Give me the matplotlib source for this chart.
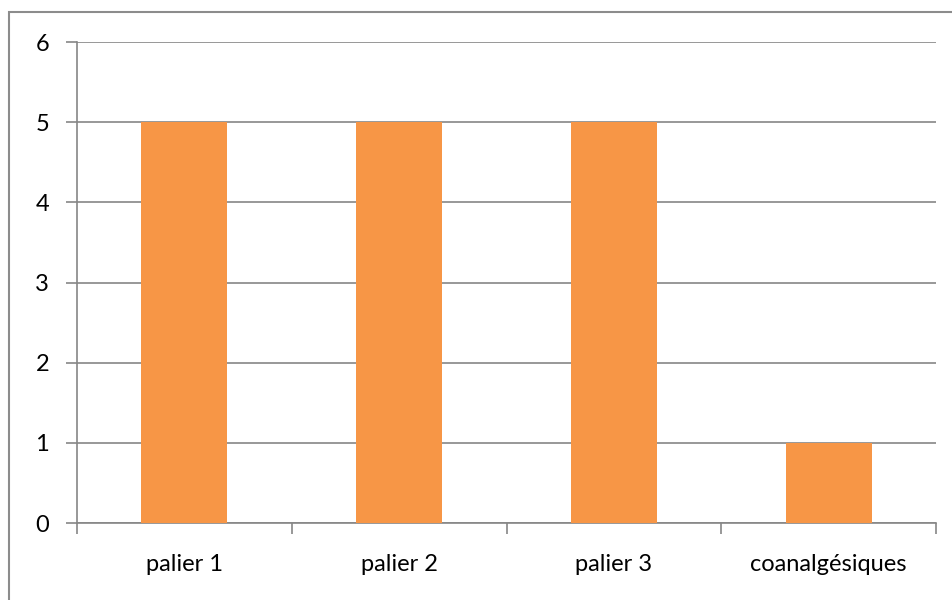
import matplotlib
matplotlib.use("Agg")
import matplotlib.pyplot as plt
from matplotlib.patches import Rectangle

categories = ["palier 1", "palier 2", "palier 3", "coanalgésiques"]
values = [5, 5, 5, 1]
yticks = [0, 1, 2, 3, 4, 5, 6]

W, H = 953, 600
fig = plt.figure(figsize=(W / 100, H / 100), dpi=100)
plt.rcParams["font.family"] = ["Lato", "DejaVu Sans"]

# chart frame (only top and left edges fall inside the image)
fig.add_artist(Rectangle((9 / W, -0.1), 1.2, (H - 12) / H + 0.1,
                         transform=fig.transFigure, fill=False,
                         edgecolor="#8c8c8c", linewidth=1.5))

left, right, top, bottom = 77, 936, 42, 523
ax = fig.add_axes([left / W, 1 - bottom / H, (right - left) / W, (bottom - top) / H])

grid_c = "#868686"
x = range(len(categories))
ax.bar(x, values, width=0.4, color="#F79646", zorder=3)

ax.set_xlim(-0.5, len(categories) - 0.5)
ax.set_ylim(0, 6)
ax.set_yticks(yticks)
ax.set_yticklabels([str(v) for v in yticks], fontsize=17)
ax.yaxis.grid(True, color=grid_c, linewidth=1.2, zorder=1)
ax.set_axisbelow(True)

# category labels centred, tick marks on boundaries
ax.set_xticks([i - 0.5 for i in range(len(categories) + 1)])
ax.set_xticklabels([])
ax.set_xticks(list(x), minor=True)
ax.set_xticklabels(categories, minor=True, fontsize=17)
ax.tick_params(axis="x", which="major", length=8, color=grid_c, width=1.2)
ax.tick_params(axis="x", which="minor", length=0, pad=22)
ax.tick_params(axis="y", length=8, color=grid_c, width=1.2, pad=12)

for s in ["top", "right"]:
    ax.spines[s].set_visible(False)
for s in ["left", "bottom"]:
    ax.spines[s].set_color(grid_c)
    ax.spines[s].set_linewidth(1.2)

fig.savefig("out.png", dpi=100)
